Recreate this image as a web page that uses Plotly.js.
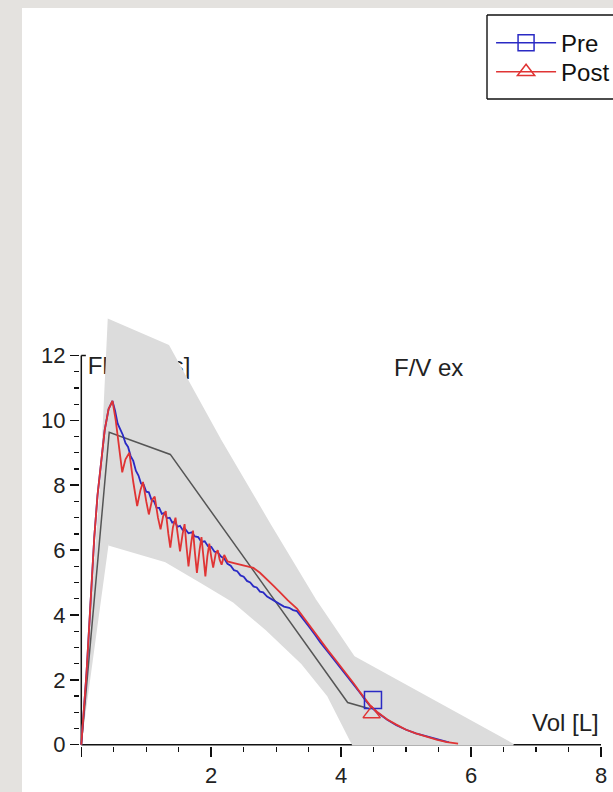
<!DOCTYPE html>
<html>
<head>
<meta charset="utf-8">
<script src="https://cdn.plot.ly/plotly-3.0.1.min.js"></script>
<style>
  html, body { margin: 0; padding: 0; overflow: hidden; background: #e4e2df; width: 613px; height: 792px; }
  #chart { position: absolute; left: 22px; top: 8px; width: 680px; height: 784px; }
</style>
</head>
<body>
<div id="chart"></div>
<script>
// Expiratory flow-volume loop: predicted curve with normal band, pre and post tracings.

// Normal range band (upper edge left to right, lower edge left to right)
const bandUpperVol  = [0, 0.3, 0.42, 1.34, 2.14, 2.9, 3.6, 4.2, 6.65];
const bandUpperFlow = [0, 8.0, 13.1, 12.3, 9.4, 6.8, 4.47, 2.7, 0];
const bandLowerVol  = [0, 0.42, 1.3, 1.85, 2.35, 2.85, 3.4, 3.8, 4.18];
const bandLowerFlow = [0, 6.17, 5.65, 5.0, 4.4, 3.55, 2.5, 1.5, 0];

// Predicted curve
const predVol  = [0, 0.43, 1.37, 4.1, 4.45];
const predFlow = [0, 9.63, 8.95, 1.3, 1.1];

// Pre tracing
const preVol = [0, 0.04, 0.08, 0.12, 0.16, 0.2, 0.25, 0.3, 0.36, 0.42, 0.48, 0.52, 0.56, 0.6, 0.64, 0.68, 0.72,
  0.76, 0.8, 0.84, 0.88, 0.92, 0.96, 1.0, 1.04, 1.08, 1.12, 1.16, 1.2, 1.24, 1.28, 1.32, 1.36, 1.4, 1.44, 1.48,
  1.52, 1.56, 1.6, 1.65, 1.7, 1.75, 1.8, 1.85, 1.9, 1.95, 2.0, 2.05, 2.1, 2.15, 2.2, 2.25, 2.3, 2.35, 2.4, 2.45,
  2.5, 2.55, 2.6, 2.65, 2.7, 2.75, 2.8, 2.86, 2.92, 2.98, 3.05, 3.12, 3.2, 3.26, 3.32, 3.4, 3.5, 3.6, 3.68, 3.8,
  3.9, 4.0, 4.09, 4.2, 4.29, 4.37, 4.45, 4.55, 4.63, 4.71, 4.85, 5.0, 5.15, 5.32, 5.48, 5.63, 5.66];
const preFlow = [0, 1.0, 2.2, 3.6, 5.0, 6.4, 7.7, 8.7, 9.7, 10.35, 10.6, 10.3, 9.9, 9.72, 9.55, 9.3, 9.18,
  8.9, 8.75, 8.45, 8.3, 8.05, 8.02, 7.8, 7.78, 7.55, 7.5, 7.3, 7.3, 7.12, 7.15, 6.98, 7.0, 6.85, 6.88, 6.72,
  6.75, 6.62, 6.65, 6.52, 6.55, 6.42, 6.4, 6.25, 6.27, 6.12, 6.1, 5.95, 5.93, 5.8, 5.74, 5.58, 5.52, 5.38, 5.35, 5.22,
  5.18, 5.05, 5.0, 4.88, 4.85, 4.72, 4.7, 4.57, 4.5, 4.42, 4.36, 4.26, 4.22, 4.15, 4.12, 3.92, 3.65, 3.38, 3.15, 2.85,
  2.6, 2.35, 2.1, 1.85, 1.6, 1.38, 1.18, 1.0, 0.88, 0.77, 0.6, 0.46, 0.35, 0.25, 0.16, 0.09, 0.08];

// Post tracing
const postVol = [0, 0.04, 0.08, 0.12, 0.16, 0.2, 0.25, 0.3, 0.36, 0.42, 0.48, 0.53, 0.58, 0.63, 0.68, 0.74, 0.8, 0.86,
  0.91, 0.95, 1.0, 1.04, 1.09, 1.13, 1.18, 1.22, 1.26, 1.3, 1.34, 1.37, 1.41, 1.45, 1.49, 1.52, 1.56, 1.59, 1.62, 1.65,
  1.69, 1.72, 1.75, 1.78, 1.82, 1.85, 1.88, 1.91, 1.94, 1.97, 2.0, 2.03, 2.07, 2.1, 2.13, 2.16, 2.2, 2.25, 2.35, 2.45,
  2.55, 2.65, 2.75, 2.86, 2.96, 3.06, 3.18, 3.32, 3.45, 3.6, 3.68, 3.8, 3.9, 4.0, 4.09, 4.2, 4.29, 4.37, 4.45, 4.55,
  4.63, 4.71, 4.85, 5.0, 5.15, 5.32, 5.48, 5.63, 5.72, 5.8];
const postFlow = [0, 1.0, 2.2, 3.6, 5.0, 6.4, 7.7, 8.7, 9.7, 10.35, 10.6, 10.0, 9.1, 8.4, 8.8, 9.0, 8.1, 7.36,
  7.85, 8.1, 7.5, 7.1, 7.55, 7.65, 7.0, 6.64, 7.05, 7.2, 6.5, 6.08, 6.7, 7.0, 6.4, 5.96, 6.5, 6.8, 6.1, 5.5,
  6.2, 6.6, 5.9, 5.3, 6.0, 6.4, 5.8, 5.19, 5.8, 6.2, 5.8, 5.46, 5.9, 6.0, 5.7, 5.55, 5.85, 5.65, 5.6, 5.55,
  5.52, 5.45, 5.3, 5.1, 4.9, 4.7, 4.45, 4.2, 3.85, 3.42, 3.2, 2.9, 2.65, 2.4, 2.15, 1.87, 1.62, 1.4, 1.2, 1.02,
  0.9, 0.78, 0.62, 0.46, 0.35, 0.24, 0.15, 0.08, 0.05, 0.03];

// Marked points on each tracing
const preMarkVol = [4.49], preMarkFlow = [1.38];
const postMarkVol = [4.47], postMarkFlow = [0.95];

// Axis ticks
const xTickVals = [0, 2, 4, 6, 8];
const xTickText = ['', '2', '4', '6', '8'];
const yTickVals = [0, 2, 4, 6, 8, 10, 12];
const yMinorVals = [];
for (let v = 0.5; v < 12; v += 0.5) { if (v % 2 !== 0) yMinorVals.push(v); }

const FONT = 'Liberation Sans, Arial, sans-serif';
const BLUE = '#2a2ac4';
const RED = '#e03434';
const BAND = '#dcdcdc';
const INK = '#111111';

const bandX = bandUpperVol.concat(bandLowerVol.slice(1).reverse());
const bandY = bandUpperFlow.concat(bandLowerFlow.slice(1).reverse());

const traces = [
  { // axis label that the band partly hides
    x: [0.10], y: [11.62], mode: 'text', text: ['Flow [L/s]'], textposition: 'middle right',
    textfont: { family: FONT, size: 24, color: '#222' }, showlegend: false, hoverinfo: 'skip'
  },
  {
    x: bandX, y: bandY, mode: 'lines', fill: 'toself', fillcolor: BAND,
    line: { color: BAND, width: 1.8 }, showlegend: false, hoverinfo: 'skip'
  },
  {
    x: predVol, y: predFlow, mode: 'lines', line: { color: '#555555', width: 1.5 },
    showlegend: false
  },
  {
    x: preVol, y: preFlow, mode: 'lines', line: { color: BLUE, width: 1.8 }, showlegend: false
  },
  {
    x: postVol, y: postFlow, mode: 'lines', line: { color: RED, width: 1.8 }, showlegend: false
  },
  {
    x: preMarkVol, y: preMarkFlow, mode: 'lines+markers', name: 'Pre', legend: 'legend',
    line: { color: BLUE, width: 1.4 },
    marker: { symbol: 'square-open', size: 17, color: BLUE, line: { width: 1.5, color: BLUE } }
  },
  {
    x: postMarkVol, y: postMarkFlow, mode: 'lines+markers', name: 'Post', legend: 'legend2',
    line: { color: RED, width: 1.4 },
    marker: { symbol: 'triangle-up-open', size: 15, color: RED, line: { width: 1.5, color: RED } }
  }
];

const tickFont = { family: FONT, size: 22, color: '#222' };
const legendBase = {
  xanchor: 'left', yanchor: 'top', bgcolor: 'rgba(0,0,0,0)', borderwidth: 0,
  font: { family: FONT, size: 24, color: INK }, itemwidth: 60, tracegroupgap: 0
};

const frame = { color: INK, width: 1.4 };

const layout = {
  width: 680, height: 784,
  margin: { l: 58, r: 101, t: 306, b: 46, autoexpand: false },
  paper_bgcolor: '#ffffff', plot_bgcolor: '#ffffff',
  font: { family: FONT, color: INK },
  showlegend: true,
  legend: Object.assign({ x: 0.789, y: 1.679 }, legendBase),
  legend2: Object.assign({ x: 0.789, y: 1.612 }, legendBase),
  xaxis: {
    range: [-0.02, 8], showline: false, zeroline: false, showgrid: false,
    ticks: 'outside', ticklen: 10, tickwidth: 1.5, tickcolor: INK,
    tickmode: 'array', tickvals: xTickVals, ticktext: xTickText, tickfont: tickFont,
    minor: { ticks: 'outside', ticklen: 5, tickwidth: 1.3, tickcolor: INK, tickmode: 'linear', tick0: 0, dtick: 0.5, showgrid: false },
    fixedrange: true
  },
  yaxis: {
    range: [-0.04, 13.28], showline: false, zeroline: false, showgrid: false,
    ticks: 'outside', ticklen: 9, tickwidth: 1.5, tickcolor: INK,
    tickmode: 'array', tickvals: yTickVals, tickfont: tickFont,
    minor: { ticks: 'outside', ticklen: 5, tickwidth: 1.3, tickcolor: INK, tickmode: 'array', tickvals: yMinorVals, showgrid: false },
    fixedrange: true
  },
  shapes: [
    // axis lines, kept under the band
    { type: 'line', xref: 'x', yref: 'y', x0: 0, x1: 8, y0: 0, y1: 0, layer: 'below', line: { color: INK, width: 1.5 } },
    { type: 'line', xref: 'x', yref: 'y', x0: 0, x1: 0, y0: 0, y1: 12, layer: 'below', line: { color: INK, width: 1.5 } },
    { type: 'line', xref: 'x', yref: 'y', x0: 0, x1: 0.07, y0: 12, y1: 12, layer: 'below', line: { color: INK, width: 1.5 } },
    // legend frame: top, left and bottom edges (the right side runs off the page)
    { type: 'line', xref: 'paper', yref: 'paper', x0: 0.7812, x1: 1.2, y0: 1.6921, y1: 1.6921, line: frame, layer: 'above' },
    { type: 'line', xref: 'paper', yref: 'paper', x0: 0.7812, x1: 0.7812, y0: 1.4977, y1: 1.6921, line: frame, layer: 'above' },
    { type: 'line', xref: 'paper', yref: 'paper', x0: 0.7812, x1: 1.2, y0: 1.4977, y1: 1.4977, line: frame, layer: 'above' }
  ],
  annotations: [
    { x: 5.34, y: 11.62, xref: 'x', yref: 'y', text: 'F/V ex', showarrow: false, xanchor: 'center', yanchor: 'middle',
      font: { family: FONT, size: 24, color: '#222' } },
    { x: 8, y: 0.67, xref: 'x', yref: 'y', text: 'Vol [L]', showarrow: false, xanchor: 'right', yanchor: 'middle',
      font: { family: FONT, size: 24, color: '#222' } }
  ]
};

Plotly.newPlot('chart', traces, layout, { displayModeBar: false, staticPlot: true });
</script>
</body>
</html>
